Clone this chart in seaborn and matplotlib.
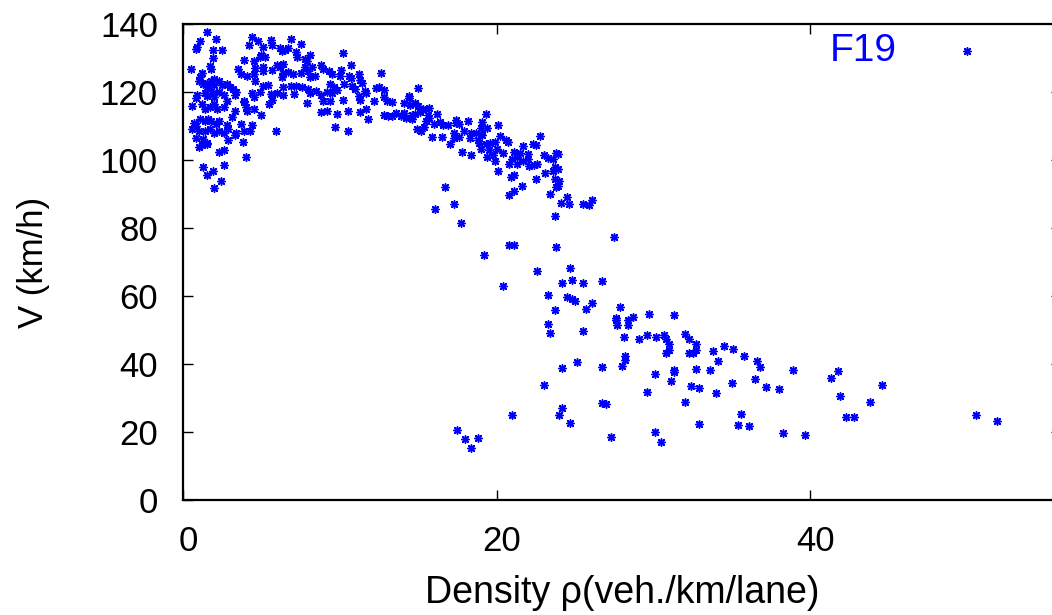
import matplotlib
matplotlib.use("Agg")
import matplotlib.pyplot as plt
import matplotlib.transforms as mtransforms
import pandas as pd
import seaborn as sns

# F19 detector: density (veh./km/lane) vs speed (km/h)
density = [
    1.5, 1.1, 2.1, 0.9, 0.8, 1.9, 2.5, 1.9, 4.4, 4.8, 5.6, 5.1, 5.7, 4.2, 6.9, 7.5, 6.2, 6.5, 6.7, 6.3,
    7.2, 7.3, 8.1, 5.0, 5.2, 4.9, 3.9, 4.5, 7.8, 7.9, 1.7, 1.8, 0.5, 3.5, 4.6, 5.1, 5.1, 5.7, 6.0, 6.2,
    6.4, 6.4, 6.7, 7.0, 6.3, 7.5, 7.8, 8.0, 8.2, 8.4, 8.1, 8.8, 8.9, 9.3, 9.5, 3.7, 4.1, 4.5, 4.6, 1.2,
    1.1, 1.0, 1.3, 1.5, 1.8, 2.0, 2.3, 2.5, 2.8, 1.5, 1.7, 2.0, 3.0, 3.2, 3.4, 0.9, 0.85, 1.4, 1.5, 1.9,
    2.0, 2.3, 2.6, 2.8, 3.3, 3.9, 4.4, 4.5, 4.9, 5.1, 5.4, 5.6, 5.5, 5.7, 6.0, 6.4, 7.1, 6.4, 6.9, 7.2,
    7.6, 8.0, 8.1, 8.5, 8.8, 9.2, 9.5, 7.9, 8.9, 9.4, 8.8, 9.2, 0.55, 1.2, 1.4, 1.7, 2.0, 2.2, 2.6, 3.9,
    4.0, 4.1, 4.5, 5.0, 3.3, 3.1, 1.1, 1.4, 1.6, 1.8, 2.1, 2.3, 0.7, 0.8, 0.6, 1.0, 1.4, 1.7, 2.0, 2.3,
    2.6, 2.8, 2.9, 3.7, 4.4, 3.9, 4.3, 3.4, 3.3, 2.9, 5.9, 3.8, 0.8, 1.3, 1.5, 1.2, 1.0, 1.5, 2.3, 2.6,
    4.0, 1.3, 1.9, 2.6, 1.5, 2.4, 2.0,
    10.2, 10.7, 10.1, 10.0, 10.6, 10.7, 11.2, 11.3, 11.4, 12.6, 9.4, 9.6, 9.8, 10.3, 10.8, 11.0, 11.6,
    11.7, 12.3, 12.5, 12.8, 15.0, 11.2, 11.3, 12.2, 12.8, 13.0, 13.3, 14.4, 14.4, 10.2, 14.1, 14.5, 14.8,
    15.0, 15.3, 15.7, 9.8, 10.5, 11.3, 11.7, 12.8, 13.1, 13.3, 13.6, 13.9, 14.1, 14.2, 14.6, 14.8, 15.1,
    15.6, 16.2, 11.8, 14.6, 15.5, 15.7, 16.0, 16.4, 16.6, 16.9, 17.4, 17.4, 18.2, 9.7, 10.5, 14.9, 15.2,
    15.4, 15.9, 16.5, 17.3, 17.6, 17.9, 17.3, 17.6, 18.3, 17.0, 17.8,
    19.3, 19.1, 19.4, 19.0, 20.1, 18.4, 18.7, 19.0, 19.1, 18.8, 18.9, 19.3, 19.6, 19.9, 20.2, 20.6, 20.7,
    22.8, 19.0, 19.5, 20.0, 20.4, 18.4, 19.4, 19.8, 21.1, 21.5, 21.7, 22.3, 22.5, 19.9, 21.0, 21.3, 21.7,
    22.0, 22.0, 22.1, 23.0, 23.3, 23.6, 23.8, 23.9, 20.1, 20.8, 21.3, 22.4, 22.6, 23.1, 23.6, 23.7, 23.9,
    20.9, 21.1, 22.5, 23.7, 24.0, 23.9, 23.8, 21.6, 21.1, 20.8, 23.4, 24.5, 24.1, 24.6, 25.5, 25.9, 26.1,
    23.7,
    16.7, 16.1, 17.3, 17.7, 27.5, 20.8, 21.1, 23.8, 19.2, 24.7, 22.6, 24.2, 24.8, 25.5, 26.7, 20.4, 23.3,
    24.5, 24.8, 25.0, 25.7, 26.1, 23.7, 27.9, 27.6, 27.6, 27.7, 28.4, 28.7, 28.4, 29.7, 23.3, 23.4, 25.5,
    28.1, 29.1, 29.6, 31.3, 30.7, 30.8, 31.0, 31.0, 30.8, 32.0, 32.3, 32.7, 32.7, 32.5, 32.3, 33.8, 34.5,
    35.1, 35.8, 34.1, 30.2, 28.2, 28.2, 28.0, 25.1, 24.2, 26.7, 30.1, 31.3, 31.3, 32.7, 33.6, 31.1, 32.4,
    32.9, 34.0, 35.0, 29.6, 23.0, 26.7, 27.0, 32.0, 24.2, 24.0, 24.7, 21.0, 35.6, 35.4, 36.1, 32.9, 17.5,
    18.0, 18.8, 18.4, 27.3, 30.1, 30.5, 36.6, 36.8, 36.5, 37.2, 38.0, 38.9, 38.3, 39.7, 41.3, 41.8, 41.9,
    42.3, 42.8, 43.8, 44.6, 50.6, 51.9,
]
speed = [
    137.6, 135.1, 135.5, 133.1, 132.7, 132.4, 132.4, 130.0, 136.3, 135.1, 135.3, 133.3, 133.9, 133.9, 135.7,
    134.1, 132.9, 132.5, 132.9, 132.2, 131.8, 130.2, 131.0, 131.0, 130.4, 130.2, 129.4, 129.2, 129.8, 129.0,
    127.6, 126.9, 126.7, 126.9, 127.1, 127.5, 126.3, 126.5, 127.8, 127.3, 128.2, 125.5, 125.9, 125.3, 124.3,
    125.5, 127.3, 126.3, 127.3, 124.7, 124.3, 127.8, 126.7, 126.3, 125.3, 125.3, 124.7, 125.3, 123.1, 125.7,
    124.5, 123.3, 122.4, 122.7, 123.1, 123.7, 123.3, 122.2, 122.5, 121.4, 120.8, 122.0, 121.4, 120.8, 120.0,
    119.2, 118.2, 119.8, 118.8, 119.6, 118.6, 120.0, 119.0, 117.5, 119.2, 117.5, 119.6, 118.4, 120.0, 121.8,
    122.2, 119.4, 116.5, 117.6, 119.8, 119.2, 119.4, 121.4, 121.8, 121.8, 121.4, 120.8, 119.6, 120.4, 119.2,
    120.0, 119.6, 116.9, 117.5, 117.3, 114.1, 114.5, 115.9, 116.5, 115.1, 115.7, 116.5, 115.1, 115.5, 117.1,
    115.7, 114.5, 114.9, 113.3, 114.3, 112.7, 112.0, 111.4, 112.2, 111.4, 110.6, 111.6, 111.0, 110.0, 109.2,
    108.4, 108.6, 109.0, 108.0, 108.6, 107.8, 110.2, 109.0, 110.6, 110.4, 108.4, 108.4, 107.8, 107.3, 105.9,
    108.6, 105.3, 106.5, 106.1, 105.1, 104.5, 103.7, 104.7, 102.4, 102.9, 100.8, 97.8, 96.9, 98.4, 95.5,
    93.9, 91.8,
    131.4, 127.8, 126.5, 124.7, 124.7, 124.1, 125.3, 123.5, 122.7, 125.7, 122.4, 121.4, 120.6, 122.4, 121.8,
    121.0, 120.4, 119.6, 121.2, 121.6, 120.6, 121.2, 118.8, 117.6, 117.3, 118.4, 117.3, 117.1, 118.8, 118.2,
    117.6, 116.9, 116.3, 116.9, 115.9, 115.1, 115.3, 113.5, 114.3, 114.1, 115.1, 113.1, 112.9, 112.9, 113.7,
    112.9, 113.7, 112.5, 113.1, 113.5, 114.1, 113.3, 113.5, 112.2, 112.2, 111.6, 112.4, 110.6, 111.2, 110.4,
    110.2, 111.8, 111.0, 111.6, 109.8, 108.6, 109.0, 108.4, 109.6, 106.7, 106.9, 108.0, 110.6, 108.6, 106.5,
    106.9, 106.5, 104.7, 102.4,
    113.5, 111.2, 109.4, 109.4, 110.4, 107.8, 107.8, 107.6, 107.3, 105.9, 105.1, 104.7, 105.1, 105.3, 107.1,
    105.9, 105.3, 107.1, 103.3, 102.9, 103.3, 102.1, 101.6, 101.0, 101.4, 102.5, 102.1, 104.1, 104.7, 104.3,
    99.8, 100.2, 100.8, 99.8, 101.8, 100.4, 98.2, 101.4, 100.6, 100.4, 102.1, 101.8, 96.9, 98.8, 98.8,
    98.6, 98.8, 96.3, 96.9, 97.8, 97.3, 95.1, 95.7, 94.5, 94.5, 93.9, 92.5, 92.0, 92.5, 91.0,
    89.6, 90.0, 89.2, 87.4, 87.2, 87.0, 86.7, 88.2, 83.5,
    92.1, 85.7, 87.1, 81.6, 77.3, 75.1, 75.1, 74.3, 72.2, 68.2, 67.4, 63.7, 64.7, 63.7, 64.5,
    62.9, 60.4, 59.6, 59.0, 58.4, 56.3, 57.9, 55.9, 56.9, 53.5, 52.9, 51.4, 52.9, 53.9, 51.4,
    54.7, 51.8, 49.0, 49.8, 47.9, 47.4, 48.6, 54.3, 48.6, 47.4, 45.9, 44.1, 43.1, 48.8, 47.3,
    45.9, 44.1, 43.3, 43.3, 43.9, 45.3, 44.5, 42.5, 41.0, 47.8, 42.5, 41.2, 39.4, 40.6, 38.8,
    39.0, 37.2, 38.2, 37.6, 38.6, 38.2, 34.9, 33.5, 32.9, 31.4, 34.5, 31.8, 33.9, 28.6, 28.2,
    28.8, 27.2, 25.1, 22.7, 24.9, 25.3, 22.1, 21.8, 22.5, 20.6, 17.8, 18.2, 15.3, 18.4, 20.0,
    17.0, 41.0, 39.2, 35.7, 33.3, 32.7, 38.2, 19.8, 19.2, 35.9, 37.8, 30.6, 24.5, 24.3, 28.8,
    33.7, 25.1, 23.1,
]
series_name = "F19"
x_ticks = [0, 20, 40]
y_ticks = [0, 20, 40, 60, 80, 100, 120, 140]

sns.set_theme(style="ticks")
plt.rcParams["font.family"] = ["Liberation Sans", "DejaVu Sans"]
plt.rcParams["axes.labelcolor"] = "black"
plt.rcParams["text.color"] = "black"

df = pd.DataFrame({"density": density, "speed": speed})

W, H = 1052, 615
fig = plt.figure(figsize=(W / 100, H / 100), dpi=100)
# gnuplot-like frame: right border falls just outside the image
ax = fig.add_axes([183 / W, 115 / H, 878 / W, 476 / H])

sns.scatterplot(data=df, x="density", y="speed", ax=ax, color="#0000ff",
                marker=(8, 2, 0), s=28, linewidth=1.1, edgecolor="#0000ff",
                label=series_name)

ax.set_xlim(0, 56)
ax.set_ylim(0, 140)
ax.set_xticks(x_ticks)
ax.set_yticks(y_ticks)
ax.tick_params(direction="in", length=7, width=1.0, top=True, right=True,
               labelsize=25, colors="black")
ax.tick_params(axis="x", pad=18)
ax.tick_params(axis="y", pad=18)
for s in ax.spines.values():
    s.set_linewidth(1.6)
    s.set_color("black")

# gnuplot draws the x tick labels a few pixels right of the ticks
shift = mtransforms.ScaledTranslation(5 / 100, 0, fig.dpi_scale_trans)
for lab in ax.get_xticklabels():
    lab.set_transform(lab.get_transform() + shift)

ax.set_xlabel("Density \u03c1(veh./km/lane)", fontsize=27, labelpad=12)
ax.set_ylabel("V (km/h)", fontsize=25, labelpad=36)

leg = ax.legend(loc="upper right", bbox_to_anchor=(0.955, 1.055), frameon=False,
                markerfirst=False, fontsize=28, handletextpad=1.3, handlelength=1.0,
                labelcolor="#0000ff")

fig.savefig("out.png", dpi=100)
